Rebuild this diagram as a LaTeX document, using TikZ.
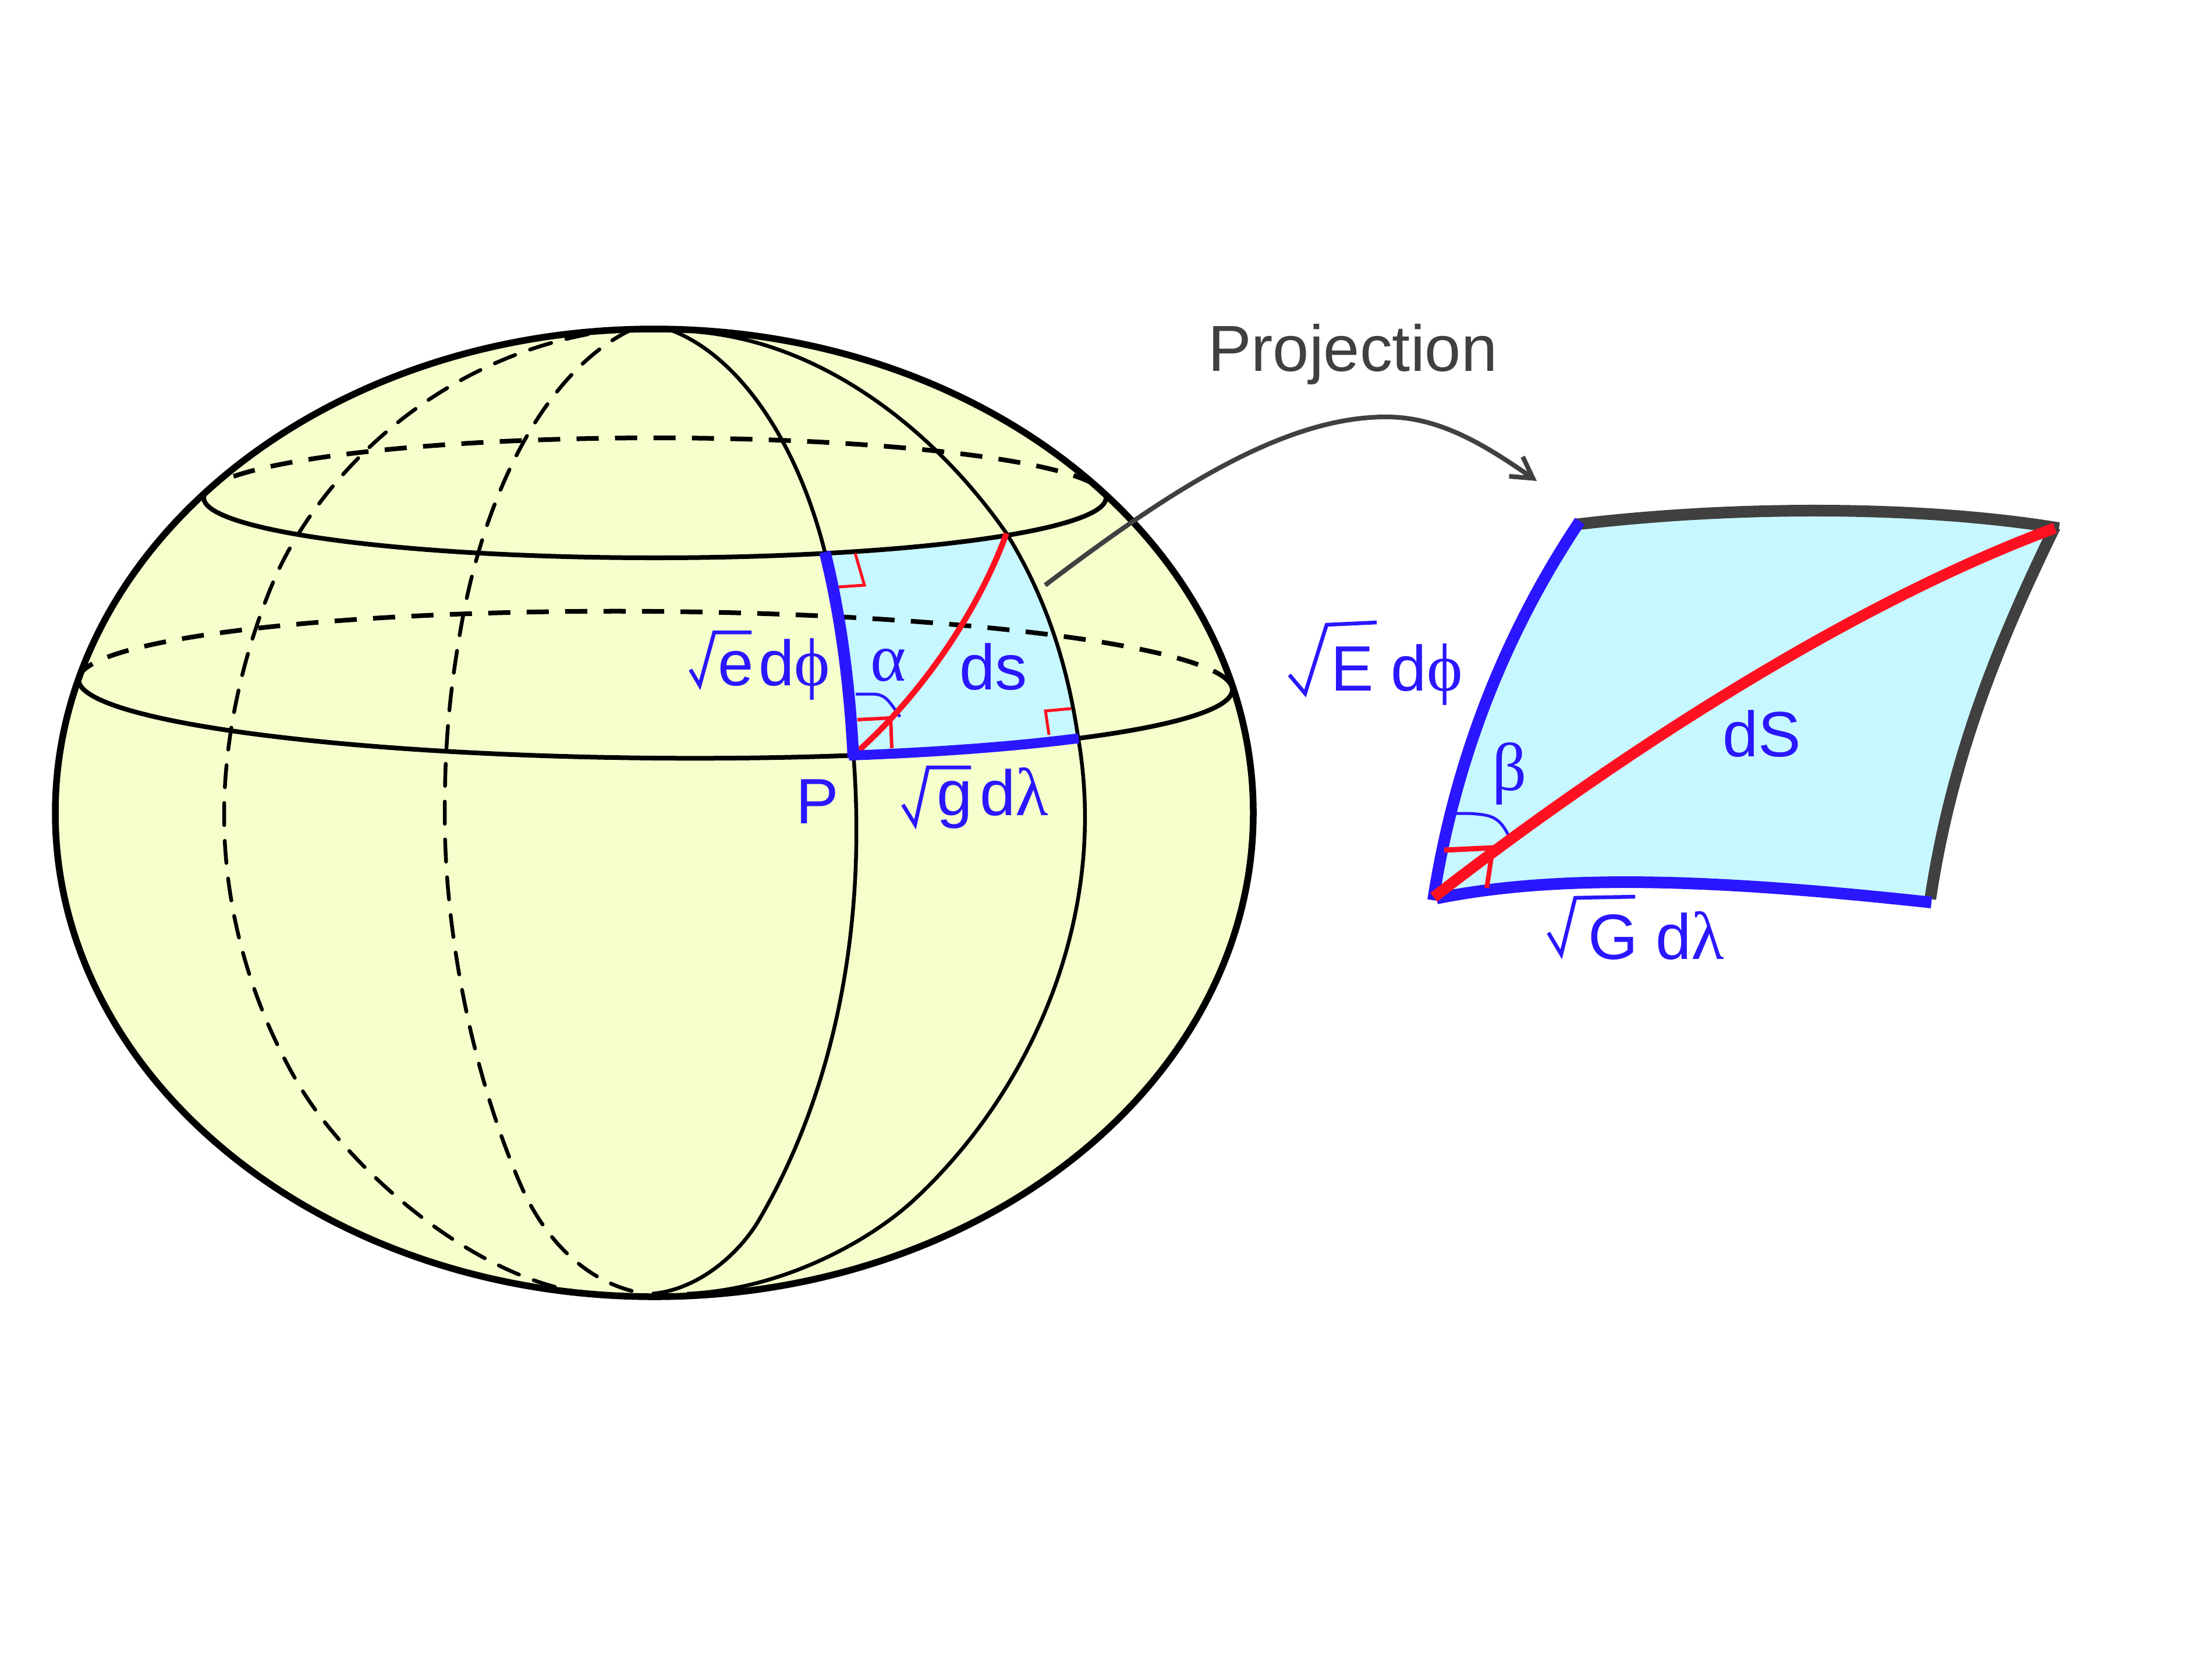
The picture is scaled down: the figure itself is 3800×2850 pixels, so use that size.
\documentclass[tikz,border=0pt]{standalone}
\usepackage{fontspec}
\setmainfont{Liberation Sans}
\newfontfamily\grk[Scale=1.06]{Liberation Serif}
\usetikzlibrary{arrows.meta}
\definecolor{globeyellow}{HTML}{F5FFCC}
\definecolor{patchcyan}{HTML}{C8F8FF}
\definecolor{markblue}{HTML}{2A17FF}
\definecolor{markred}{HTML}{FF1020}
\definecolor{inkgray}{HTML}{404040}
\tikzset{
  lbl/.style={inner sep=0pt,outer sep=0pt,anchor=base west,text=markblue,font=\fontsize{31.3}{36}\selectfont},
  outline/.style={draw=black,line width=0.115cm},
  latsolid/.style={draw=black,line width=0.08cm},
  latdash/.style={draw=black,line width=0.08cm,dash pattern=on 0.38cm off 0.28cm},
  mersolid/.style={draw=black,line width=0.065cm},
  merdash/.style={draw=black,line width=0.065cm,dash pattern=on 0.38cm off 0.27cm,line cap=round},
  thickblue/.style={draw=markblue,line width=0.2cm},
  thickgray/.style={draw=inkgray,line width=0.2cm},
  surd/.style={draw=markblue,line width=0.065cm,line join=miter},
  arc mark/.style={draw=markblue,line width=0.05cm},
  sq mark/.style={draw=markred,line width=0.05cm},
  sq thick/.style={draw=markred,line width=0.09cm},
  connector/.style={draw=inkgray,line width=0.08cm,-{Straight Barb[length=0.355cm,width=0.41cm,line width=0.08cm]}}
}
\begin{document}
\begin{tikzpicture}[x=0.01cm,y=-0.01cm,line cap=butt]
\useasboundingbox (0,0) rectangle (3800,2850);
\fill[white] (0,0) rectangle (3800,2850);
\path[fill=globeyellow] (1124,1396) ellipse [x radius=1029,y radius=831];
% patch on globe
\fill[patchcyan] plot[domain=67.9:38.9,samples=20] ({1125+775*cos(\x)},{855+103*sin(\x)})
  .. controls (1800,1030) and (1835,1150) .. (1852,1266)
  -- plot[domain=42.8:70.4,samples=20] ({1126+991*cos(\x)},{1176+991*cos(\x)*0.0087+126*sin(\x)})
  .. controls (1460,1180) and (1445,1060) .. (1417,948) -- cycle;
% latitude circles
\draw[latsolid] plot[domain=0:180,samples=120,smooth] ({1125+775*cos(\x)},{855+103*sin(\x)});
\draw[latdash] plot[domain=180:360,samples=120,smooth] ({1125+775*cos(\x)},{855+103*sin(\x)});
\draw[latsolid] plot[domain=0:180,samples=120,smooth] ({1126+991*cos(\x)},{1176+991*cos(\x)*0.0087+126*sin(\x)});
\draw[latdash] plot[domain=180:360,samples=120,smooth] ({1126+991*cos(\x)},{1176+991*cos(\x)*0.0087+126*sin(\x)});
% hidden meridians
\draw[merdash] (1010,574) .. controls (720,630) and (540,840) .. (473,991)
   .. controls (430,1090) and (385,1240) .. (385,1400)
   .. controls (385,1560) and (430,1720) .. (511,1859)
   .. controls (590,1995) and (800,2190) .. (1000,2220);
\draw[merdash] (1085,566) .. controls (930,640) and (830,860) .. (792,1077)
   .. controls (772,1190) and (764,1280) .. (764,1400)
   .. controls (764,1600) and (810,1840) .. (894,2034)
   .. controls (940,2140) and (1020,2210) .. (1111,2222);
% front meridians
\draw[mersolid] (1150,566) .. controls (1270,610) and (1370,760) .. (1417,948)
   .. controls (1445,1060) and (1460,1180) .. (1466,1295)
   .. controls (1490,1600) and (1430,1880) .. (1304,2095)
   .. controls (1270,2153) and (1200,2215) .. (1120,2222);
\draw[mersolid] (1200,570) .. controls (1420,590) and (1610,745) .. (1729,916)
   .. controls (1800,1030) and (1835,1150) .. (1852,1266)
   .. controls (1905,1570) and (1775,1870) .. (1571,2060)
   .. controls (1490,2135) and (1340,2215) .. (1180,2222);
\path[outline] (1124,1396) ellipse [x radius=1029,y radius=831];
% marks in patch
\draw[sq mark] (1469,950) -- (1485,1005) -- (1441,1008);
\draw[sq mark] (1802,1262) -- (1796,1221) -- (1840,1217);
\draw[sq mark,line width=0.06cm] (1473,1236) -- (1530,1233) -- (1532,1285);
\draw[arc mark] (1470,1192) -- (1500,1192) .. controls (1520,1193) and (1525,1200) .. (1546,1231);
\draw[draw=markred,line width=0.1cm] (1474,1290) .. controls (1585,1190) and (1680,1050) .. (1729,916);
\draw[thickblue] (1417,948) .. controls (1445,1060) and (1460,1180) .. (1466,1302);
\draw[thickblue,line width=0.17cm] plot[domain=70.4:42.8,samples=20] ({1126+991*cos(\x)},{1176+991*cos(\x)*0.0087+126*sin(\x)});
% labels on globe
\draw[surd] (1186,1150) -- (1202,1177) -- (1227,1086) -- (1291,1086);
\node[lbl] (elabel) at (1233,1177.5) {e\kern2.6pt d{\grk ϕ}};
\node[lbl] (alpha) at (1495,1169) {\grk α};
\node[lbl] (dslabel) at (1648,1184) {ds};
\node[lbl] (plabel) at (1367,1414) {P};
\draw[surd] (1551,1382) -- (1572,1416) -- (1594,1318) -- (1668,1318);
\node[lbl] (glabel) at (1609,1400) {g\kern3.7pt d{\grk λ}};
% patch projected
\fill[patchcyan] (2709,901) .. controls (2980,868) and (3300,868) .. (3530,907)
  .. controls (3420,1130) and (3350,1320) .. (3316,1544)
  .. controls (2950,1510) and (2680,1500) .. (2463,1540)
  .. controls (2500,1300) and (2590,1080) .. (2709,901) -- cycle;
\draw[thickgray] (2705,901) .. controls (2980,868) and (3300,868) .. (3537,907);
\draw[thickgray] (3530,905) .. controls (3420,1130) and (3350,1320) .. (3316,1544);
\draw[thickblue] (2714,895) .. controls (2590,1080) and (2500,1300) .. (2462,1546);
\draw[thickblue] (2468,1543) .. controls (2680,1500) and (2950,1510) .. (3318,1550);
\draw[sq thick] (2481,1460) -- (2566,1456);
\draw[draw=markred,line width=0.08cm] (2562,1473) -- (2554,1525);
\draw[arc mark] (2495,1397) -- (2525,1397) .. controls (2560,1400) and (2575,1400) .. (2593,1438);
\draw[draw=markred,line width=0.19cm] (2463,1541) .. controls (2760,1310) and (3170,1040) .. (3530,907);
% labels on projected patch
\draw[surd] (2215,1159) -- (2242,1191) -- (2279,1073) -- (2365,1069);
\node[lbl] (elabelB) at (2286,1186) {E d{\grk ϕ}};
\node[lbl] (beta) at (2563,1357) {\grk β};
\node[lbl] (dSlabel) at (2959,1299) {dS};
\draw[surd] (2660,1602) -- (2682,1639) -- (2706,1542) -- (2809,1540);
\node[lbl] (glabelB) at (2728,1647) {G d{\grk λ}};
% connector
\node[lbl,text=inkgray,font=\fontsize{31.8}{36}\selectfont] (proj) at (2075,637.5) {Projection};
\coordinate (arrowstart) at (1795.5,1005);
\coordinate (arrowtop) at (2381,716);
\coordinate (arrowend) at (2640,826);
\draw[connector] (arrowstart) .. controls (2000,850) and (2200,716) .. (arrowtop) .. controls (2470,716) and (2545,760) .. (arrowend);
\end{tikzpicture}
\end{document}
